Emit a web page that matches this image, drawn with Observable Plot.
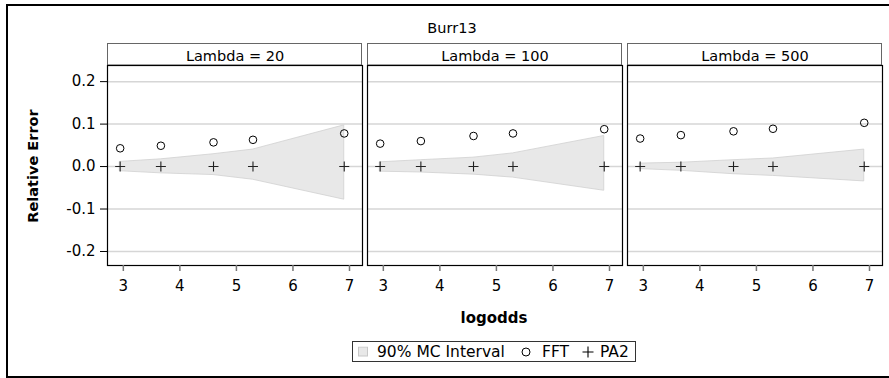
<!DOCTYPE html>
<html><head><meta charset="utf-8">
<script src="https://cdn.jsdelivr.net/npm/d3@7"></script>
<script src="https://cdn.jsdelivr.net/npm/@observablehq/plot@0.6"></script>
<style>
body{margin:0;background:#fff;font-family:"DejaVu Sans",Verdana,sans-serif;}
#wrap{position:relative;width:889px;height:378px;overflow:hidden;background:#fff;}
#border{position:absolute;left:6px;top:4px;width:920px;height:374px;border:2px solid #000;box-sizing:border-box;}
#chart{position:absolute;left:0;top:0;}
.lbl{position:absolute;white-space:nowrap;color:#000;}
#title{left:452px;top:28px;transform:translate(-50%,-50%);font-size:14.5px;}
#ylab{left:33px;top:166px;transform:translate(-50%,-50%) rotate(-90deg);font-size:14.5px;font-weight:bold;}
#xlab{left:494px;top:318px;transform:translate(-50%,-50%);font-size:15px;font-weight:bold;}
#legend{position:absolute;left:352px;top:341px;width:284px;height:21px;border:1px solid #333;box-sizing:border-box;font-size:15.5px;}
#legend > *{position:absolute;top:50%;transform:translateY(-50%);white-space:nowrap;}
#legend svg{display:block;}
</style>
</head><body>
<div id="wrap">
  <div id="border"></div>
  <div id="chart"></div>
  <div class="lbl" id="title">Burr13</div>
  <div class="lbl" id="ylab">Relative Error</div>
  <div class="lbl" id="xlab">logodds</div>
  <div id="legend"></div>
</div>
<script>
// ---- data ----
const panels = ["Lambda = 20", "Lambda = 100", "Lambda = 500"];
const logodds = [2.944, 3.664, 4.595, 5.293, 6.907];
const fft20  = [0.043, 0.049, 0.057, 0.063, 0.078];
const fft100 = [0.054, 0.060, 0.072, 0.078, 0.088];
const fft500 = [0.066, 0.074, 0.083, 0.089, 0.103];
const pa2_20  = [0, 0, 0, 0, 0];
const pa2_100 = [0, 0, 0, 0, 0];
const pa2_500 = [0, 0, 0, 0, 0];
const lo20  = [-0.011, -0.016, -0.020, -0.031, -0.078];
const hi20  = [0.011, 0.017, 0.029, 0.040, 0.097];
const lo100 = [-0.012, -0.014, -0.019, -0.026, -0.057];
const hi100 = [0.010, 0.015, 0.021, 0.031, 0.072];
const lo500 = [-0.006, -0.010, -0.018, -0.022, -0.035];
const hi500 = [0.007, 0.009, 0.015, 0.019, 0.040];
const xTicks = [3, 4, 5, 6, 7];
const yTicks = [-0.2, -0.1, 0.0, 0.1, 0.2];
const legendLabels = ["90% MC Interval", "FFT", "PA2"];

const series = [
  {panel: panels[0], fft: fft20, pa2: pa2_20, lo: lo20, hi: hi20},
  {panel: panels[1], fft: fft100, pa2: pa2_100, lo: lo100, hi: hi100},
  {panel: panels[2], fft: fft500, pa2: pa2_500, lo: lo500, hi: hi500}
];
const rows = series.flatMap(s => logodds.map((x, i) => ({
  panel: s.panel, x, fft: s.fft[i], pa2: s.pa2[i], lo: s.lo[i], hi: s.hi[i]
})));

const plusSymbol = {
  draw(ctx, size) {
    const h = Math.sqrt(size / Math.PI);
    ctx.moveTo(-h, 0); ctx.lineTo(h, 0);
    ctx.moveTo(0, -h); ctx.lineTo(0, h);
  }
};

const W = 889, H = 378;
const plot = Plot.plot({
  width: W, height: H,
  marginLeft: 106, marginRight: 6, marginTop: 65, marginBottom: 113,
  style: {fontFamily: "'DejaVu Sans', Verdana, sans-serif", fontSize: "15px", background: "transparent", color: "#000"},
  fx: {domain: panels, paddingInner: 0.0192, paddingOuter: 0, label: null},
  x: {domain: [2.72, 7.23], label: null},
  y: {domain: [-0.233, 0.238], label: null},
  marks: [
    Plot.gridY(yTicks, {stroke: "#d6d6d6", strokeOpacity: 1, strokeWidth: 1.5}),
    Plot.areaY(rows, {fx: "panel", x: "x", y1: "lo", y2: "hi", fill: "#e8e8e8", fillOpacity: 1, stroke: "#d0d0d0", strokeWidth: 0.8}),
    Plot.dot(rows, {fx: "panel", x: "x", y: "pa2", symbol: plusSymbol, r: 5, stroke: "#222", fill: "none", strokeWidth: 1.1}),
    Plot.dot(rows, {fx: "panel", x: "x", y: "fft", r: 3.8, stroke: "#000", fill: "none", strokeWidth: 1}),
    Plot.frame({stroke: "#000", strokeWidth: 1.2}),
    Plot.axisFx({anchor: "top", tickSize: 0, tickPadding: 5, label: null, fontSize: 14.5}),
    Plot.axisX({ticks: xTicks, tickFormat: d => String(d), tickSize: 6, tickPadding: 9, stroke: "#777", strokeWidth: 1.5, label: null, fontSize: 15}),
    Plot.axisY({ticks: yTicks, tickFormat: d => d.toFixed(1), tickSize: 7, tickPadding: 5, stroke: "#000", label: null, fontSize: 15})
  ]
});
document.getElementById("chart").appendChild(plot);

// header boxes from the fx scale
const fxs = plot.scale("fx");
const svg = d3.select(plot);
panels.forEach(p => {
  const x0 = fxs.apply(p);
  svg.insert("rect", ":first-child")
    .attr("x", x0 + 0.5).attr("y", 43.5)
    .attr("width", fxs.bandwidth - 1).attr("height", 21.5)
    .attr("fill", "#fff").attr("stroke", "#666").attr("stroke-width", 1);
});

// legend
const lg = document.getElementById("legend");
lg.innerHTML = `
<svg style="left:5px" width="11" height="11"><rect x="0.5" y="0.5" width="9" height="9" fill="#e8e8e8" stroke="#c8c8c8"/></svg>
<span style="left:24px">${legendLabels[0]}</span>
<svg style="left:166px" width="14" height="12"><circle cx="7" cy="6" r="4" fill="none" stroke="#000"/></svg>
<span style="left:189px">${legendLabels[1]}</span>
<svg style="left:228px" width="14" height="14"><path d="M7,1.5V12.5M1.5,7H12.5" stroke="#000" fill="none" stroke-width="1.1"/></svg>
<span style="left:247px">${legendLabels[2]}</span>`;
</script>
</body></html>
